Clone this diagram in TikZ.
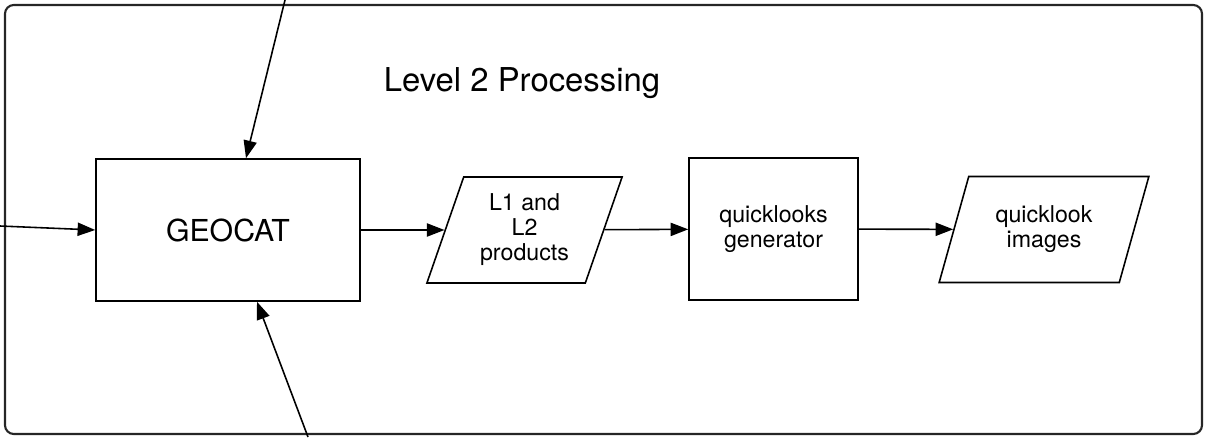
\documentclass[tikz,border=0pt]{standalone}
\usepackage{fontspec}
\setmainfont{TeX Gyre Heros}
\usetikzlibrary{shapes.geometric, arrows.meta, positioning}
\definecolor{marcoGris}{HTML}{262626}

\begin{document}
\begin{tikzpicture}[font=\fontsize{13.2}{14.2}\selectfont, >={Triangle[length=10pt,width=7.5pt]},
        proc/.style={draw, line width=0.9pt, minimum height=2.84cm, align=center},
        datos/.style={draw, line width=0.9pt, trapezium, trapezium left angle=70, trapezium right angle=110,
            trapezium stretches=true, minimum height=2.12cm, align=center},
        flujo/.style={->, line width=0.9pt}]
        \useasboundingbox (0,0) rectangle (24.14,8.74);
        \draw[marcoGris, line width=1.2pt, rounded corners=5pt] (0.1,0.06) rectangle (24.04,8.64);
        \node[font=\fontsize{18.7}{20}\selectfont] (titulo) at (10.44,7.08) {Level 2 Processing};
        \node[proc, minimum width=5.28cm, font=\fontsize{17.2}{19}\selectfont] (geocat) at (4.56,4.14) {GEOCAT};
        \node[datos, minimum width=3.94cm] (prod) at (10.49,4.14) {L1 and\\L2\\products};
        \node[proc, minimum width=3.38cm] (qlgen) at (15.47,4.16) {quicklooks\\generator};
        \node[datos, minimum width=4.2cm] (qlimg) at (20.88,4.15) {quicklook\\images};
        \coordinate (inIzq) at (0,4.22);
        \coordinate (inArr) at (5.7,8.74);
        \coordinate (inAba) at (6.16,0);
        \draw[flujo] (inIzq) -- (geocat.west);
        \draw[flujo] (inArr) -- ([xshift=0.36cm]geocat.north);
        \draw[flujo] (inAba) -- ([xshift=0.58cm]geocat.south);
        \draw[flujo] (geocat) -- (prod);
        \draw[flujo] (prod) -- (qlgen);
        \draw[flujo] (qlgen) -- (qlimg);
    \end{tikzpicture}
\end{document}
